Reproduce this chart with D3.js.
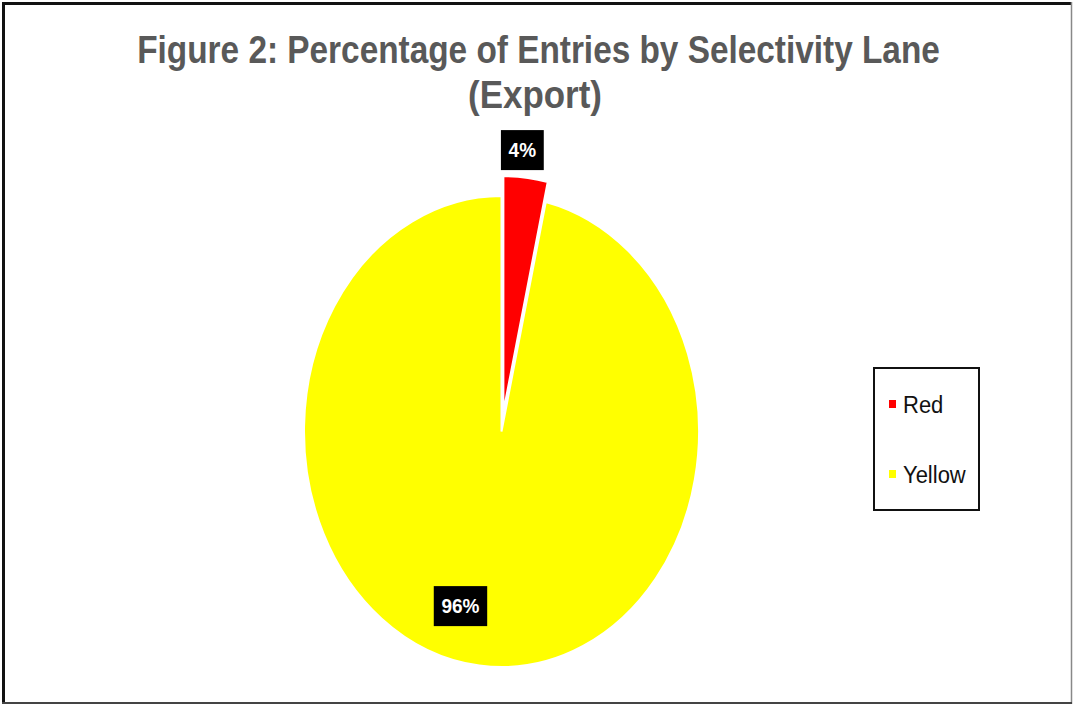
<!DOCTYPE html>
<html>
<head>
<meta charset="utf-8">
<script src="https://cdn.jsdelivr.net/npm/d3@7"></script>
<style>
  html, body { margin: 0; padding: 0; background: #fff; }
  svg { display: block; }
  text { font-family: "Liberation Sans", Arial, sans-serif; }
</style>
</head>
<body>
<svg id="chart" width="1073" height="706"></svg>
<script>
// ---- data ----
const categories = ["Red", "Yellow"];
const values = [3.6, 96.4];
const colors = ["#FF0000", "#FFFF00"];
const titleLines = ["Figure 2: Percentage of Entries by Selectivity Lane", "(Export)"];

const W = 1073, H = 706;
const svg = d3.select("#chart");

// outer frame
svg.append("rect").attr("x", 0).attr("y", 0).attr("width", W).attr("height", H).attr("fill", "#fff");
svg.append("line").attr("x1", 2).attr("x2", 1071).attr("y1", 3.5).attr("y2", 3.5).attr("stroke", "#111").attr("stroke-width", 3);
svg.append("line").attr("x1", 3.5).attr("x2", 3.5).attr("y1", 2).attr("y2", 704).attr("stroke", "#111").attr("stroke-width", 3);
svg.append("line").attr("x1", 1071.5).attr("x2", 1071.5).attr("y1", 2).attr("y2", 704).attr("stroke", "#888").attr("stroke-width", 1.5);
svg.append("line").attr("x1", 2).attr("x2", 1072).attr("y1", 703).attr("y2", 703).attr("stroke", "#444").attr("stroke-width", 2);

// title (bold, horizontally condensed like the reference)
const titleSpec = [
  { x: 538.5, y: 63, w: 803 },
  { x: 535, y: 108, w: 134 }
];
titleLines.forEach((line, i) => {
  const s = titleSpec[i];
  const t = svg.append("text")
    .attr("text-anchor", "middle")
    .attr("font-size", 39.5).attr("font-weight", "bold").attr("fill", "#595959")
    .text(line);
  const natural = t.node().getComputedTextLength();
  const k = s.w / natural;
  t.attr("transform", `translate(${s.x},${s.y}) scale(${k},1)`);
});

// pie (elliptical, as in the stretched reference)
const cx = 501.5, cy = 431.5, R = 235.5, rx = 197.5;
const sx = rx / R;
const explode = [20, 0];

const pie = d3.pie().sort(null).value(d => d);
const arcs = pie(values);
const arc = d3.arc().innerRadius(0).outerRadius(R);

const pieG = svg.append("g").attr("transform", `translate(${cx},${cy}) scale(${sx},1)`);

function offset(a, d) {
  const m = (a.startAngle + a.endAngle) / 2;
  return [d * Math.sin(m), -d * Math.cos(m)];
}

pieG.selectAll("path.slice")
  .data(arcs)
  .join("path")
  .attr("class", "slice")
  .attr("d", arc)
  .attr("transform", (a, i) => { const o = offset(a, explode[i]); return `translate(${o[0]},${o[1]})`; })
  .attr("fill", (a, i) => colors[i])
  .attr("stroke", "#fff")
  .attr("stroke-width", 2)
  .attr("vector-effect", "non-scaling-stroke");

// data labels
const labelRadius = [R + 27 + explode[0], R * 0.77];
const labelAngleShift = [-0.025, 0.16];
function labelPos(a, i) {
  const m = (a.startAngle + a.endAngle) / 2 + labelAngleShift[i];
  const r = labelRadius[i];
  return [cx + r * Math.sin(m) * sx, cy - r * Math.cos(m)];
}
const lblG = svg.append("g");
arcs.forEach((a, i) => {
  const [lx, ly] = labelPos(a, i);
  const g = lblG.append("g");
  const t = g.append("text")
    .attr("transform", `translate(${lx},${ly + 7}) scale(1,1.08)`)
    .attr("text-anchor", "middle")
    .attr("font-size", 19).attr("font-weight", "bold").attr("fill", "#fff")
    .text(Math.round(values[i]) + "%");
  const bb = t.node().getBBox();
  g.insert("rect", "text")
    .attr("x", lx - (bb.width + 15) / 2).attr("y", ly - 20)
    .attr("width", bb.width + 15).attr("height", 40)
    .attr("fill", "#000");
});

// legend
const legG = svg.append("g");
legG.append("rect")
  .attr("x", 874).attr("y", 368).attr("width", 105).attr("height", 142)
  .attr("fill", "#fff").attr("stroke", "#111").attr("stroke-width", 2);
const legY = d3.scalePoint().domain(categories).range([413, 483]);
categories.forEach((c, i) => {
  legG.append("rect")
    .attr("x", 889).attr("y", legY(c) - 13).attr("width", 7).attr("height", 8)
    .attr("fill", colors[i]);
  legG.append("text")
    .attr("transform", `translate(903,${legY(c)}) scale(1,1.12)`)
    .attr("font-size", 22).attr("fill", "#111")
    .text(c);
});
</script>
</body>
</html>
